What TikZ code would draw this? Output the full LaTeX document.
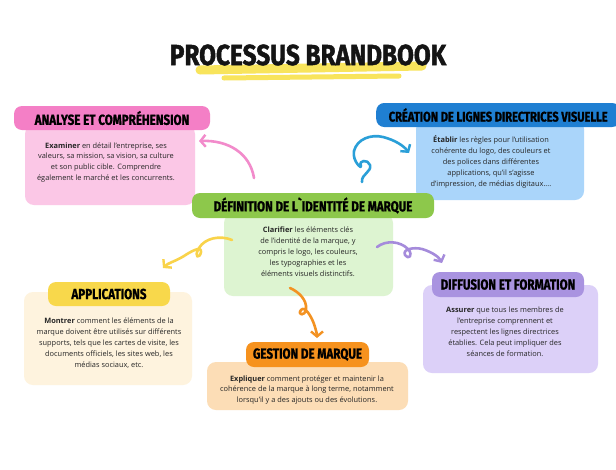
\documentclass[tikz,border=0pt]{standalone}
\usepackage{fontspec}
\setmainfont{Open Sans}
\newfontfamily\headfont[FakeStretch=0.8,FakeBold=1.2]{Fira Sans}
\newfontfamily\titlefont[FakeStretch=0.84,FakeBold=1.5]{Fira Sans}
\usetikzlibrary{arrows.meta}
\definecolor{pinkH}{HTML}{F47FC6}
\definecolor{pinkB}{HTML}{FBC7E6}
\definecolor{blueH}{HTML}{1F7FD2}
\definecolor{blueB}{HTML}{AAD5FA}
\definecolor{greenH}{HTML}{8DC84B}
\definecolor{greenB}{HTML}{DDF4D1}
\definecolor{yelH}{HTML}{F8D84B}
\definecolor{yelB}{HTML}{FEF3DE}
\definecolor{purH}{HTML}{A993E0}
\definecolor{purB}{HTML}{DCD0F8}
\definecolor{oraH}{HTML}{F6921E}
\definecolor{oraB}{HTML}{FCDDB6}
\definecolor{hiYel}{HTML}{F8E45C}
\definecolor{arPink}{HTML}{F28BCB}
\definecolor{arBlue}{HTML}{2A9FD8}
\definecolor{arYel}{HTML}{F9D34A}
\definecolor{arPur}{HTML}{A58BDB}
\definecolor{arOra}{HTML}{F39222}
\definecolor{txt}{HTML}{262626}
\tikzset{
  head/.style={rounded corners=8pt, inner sep=0pt, minimum height=25pt,
    font=\headfont\bfseries\fontsize{14.5}{15}\selectfont, text=black},
  bodybox/.style={rounded corners=9pt, inner sep=0pt},
  bodytext/.style={align=center, inner sep=0pt, text=txt,
    font=\fontsize{7.4}{10.9}\selectfont},
  deco/.style={line width=2.6pt, line cap=round, line join=round,
    -{Straight Barb[length=5pt,width=12pt,line width=2.4pt]}}
}
\begin{document}
\begin{tikzpicture}[x=1pt,y=-1pt]
\useasboundingbox (0,0) rectangle (616,469);
\fill[white] (0,0) rectangle (616,469);
% title
\draw[hiYel, line width=9pt, line cap=round] (200,70) -- (422,66);
\draw[hiYel, line width=5pt, line cap=round] (224,78) -- (399,76);
\node[font=\titlefont\bfseries\fontsize{29}{30}\selectfont, text=black!92, inner sep=0pt] (title) at (308,55) {PROCESSUS BRANDBOOK};

% bodies
\node[bodybox, fill=pinkB, minimum width=170pt, minimum height=80pt] (b1) at (110,165) {};
\node[bodybox, fill=blueB, minimum width=168pt, minimum height=80pt] (b2) at (500,160) {};
\node[bodybox, fill=greenB, minimum width=169pt, minimum height=82pt] (b3) at (308.5,255) {};
\node[bodybox, fill=yelB, minimum width=168pt, minimum height=93pt] (b4) at (108,338.5) {};
\node[bodybox, fill=purB, minimum width=175pt, minimum height=88pt] (b5) at (510.5,329) {};
\node[bodybox, fill=oraB, minimum width=201pt, minimum height=48pt] (b6) at (307.5,386) {};

% headers
\node[head, fill=pinkH, minimum width=196pt, minimum height=24pt] (h1) at (112,118) {ANALYSE ET COMPRÉHENSION};
\node[head, fill=blueH, minimum height=24pt, minimum width=244pt, anchor=west,
  font=\headfont\bfseries\fontsize{13.9}{14}\selectfont] (h2) at (376,115) {CRÉATION DE LIGNES DIRECTRICES VISUELLE};
\node[head, fill=greenH, minimum width=242pt] (h3) at (313,205.5) {DÉFINITION DE L`IDENTITÉ DE MARQUE};
\node[head, fill=yelH, minimum width=122pt, minimum height=24pt] (h4) at (109,294) {APPLICATIONS};
\node[head, fill=purH, minimum width=152pt] (h5) at (508,284.5) {DIFFUSION ET FORMATION};
\node[head, fill=oraH, minimum width=123pt] (h6) at (307.5,354.5) {GESTION DE MARQUE};

% texts
\node[bodytext] (t1) at (106,162.5) {\textbf{Examiner} en détail l'entreprise, ses\\valeurs, sa mission, sa vision, sa culture\\et son public cible. Comprendre\\également le marché et les concurrents.};
\node[bodytext] (t2) at (491,162) {\textbf{Établir} les règles pour l'utilisation\\cohérente du logo, des couleurs et\\des polices dans différentes\\applications, qu'il s'agisse\\d'impression, de médias digitaux....};
\node[bodytext] (t3) at (308,252) {\textbf{Clarifier} les éléments clés\\de l'identité de la marque, y\\compris le logo, les couleurs,\\les typographies et les\\éléments visuels distinctifs.};
\node[bodytext] (t4) at (109,343) {\textbf{Montrer} comment les éléments de la\\marque doivent être utilisés sur différents\\supports, tels que les cartes de visite, les\\documents officiels, les sites web, les\\médias sociaux, etc.};
\node[bodytext] (t5) at (505,331.5) {\textbf{Assurer} que tous les membres de\\l'entreprise comprennent et\\respectent les lignes directrices\\établies. Cela peut impliquer des\\séances de formation.};
\node[bodytext] (t6) at (307,390) {\textbf{Expliquer} comment protéger et maintenir la\\cohérence de la marque à long terme, notamment\\lorsqu'il y a des ajouts ou des évolutions.};

% decorative arrows
\coordinate (p1s) at (254,178); \coordinate (p1e) at (199,141);
\draw[deco, arPink] (p1s) .. controls (250,153) and (228,140) .. (p1e);

\coordinate (p2s) at (362,182); \coordinate (p2e) at (409,153);
\draw[deco, arBlue] (p2s) .. controls (361,174) and (372,172) .. (370,165)
  .. controls (368,159) and (358,160) .. (361,166)
  .. controls (363,170) and (352,162) .. (354,151)
  .. controls (357,139) and (371,134) .. (383,137)
  .. controls (395,140) and (404,146) .. (p2e);

\coordinate (p3s) at (232,240); \coordinate (p3e) at (163,268);
\draw[deco, arYel] (p3s) .. controls (220,235) and (205,238) .. (199,248)
  .. controls (193,258) and (200,259) .. (201,252)
  .. controls (202,245) and (190,252) .. (184,256)
  .. controls (176,261) and (168,263) .. (p3e);

\coordinate (p4s) at (377,247); \coordinate (p4e) at (442,263);
\draw[deco, arPur] (p4s) .. controls (386,240) and (400,241) .. (408,249)
  .. controls (414,256) and (408,260) .. (405,255)
  .. controls (402,249) and (414,247) .. (422,249)
  .. controls (432,252) and (439,257) .. (p4e);

\coordinate (p5s) at (290,288); \coordinate (p5e) at (317,338);
\draw[deco, arOra] (p5s) .. controls (299,292) and (307,300) .. (306,309)
  .. controls (305,317) and (297,315) .. (301,310)
  .. controls (305,305) and (312,318) .. (314,324)
  .. controls (316,330) and (317,334) .. (p5e);
\end{tikzpicture}
\end{document}
